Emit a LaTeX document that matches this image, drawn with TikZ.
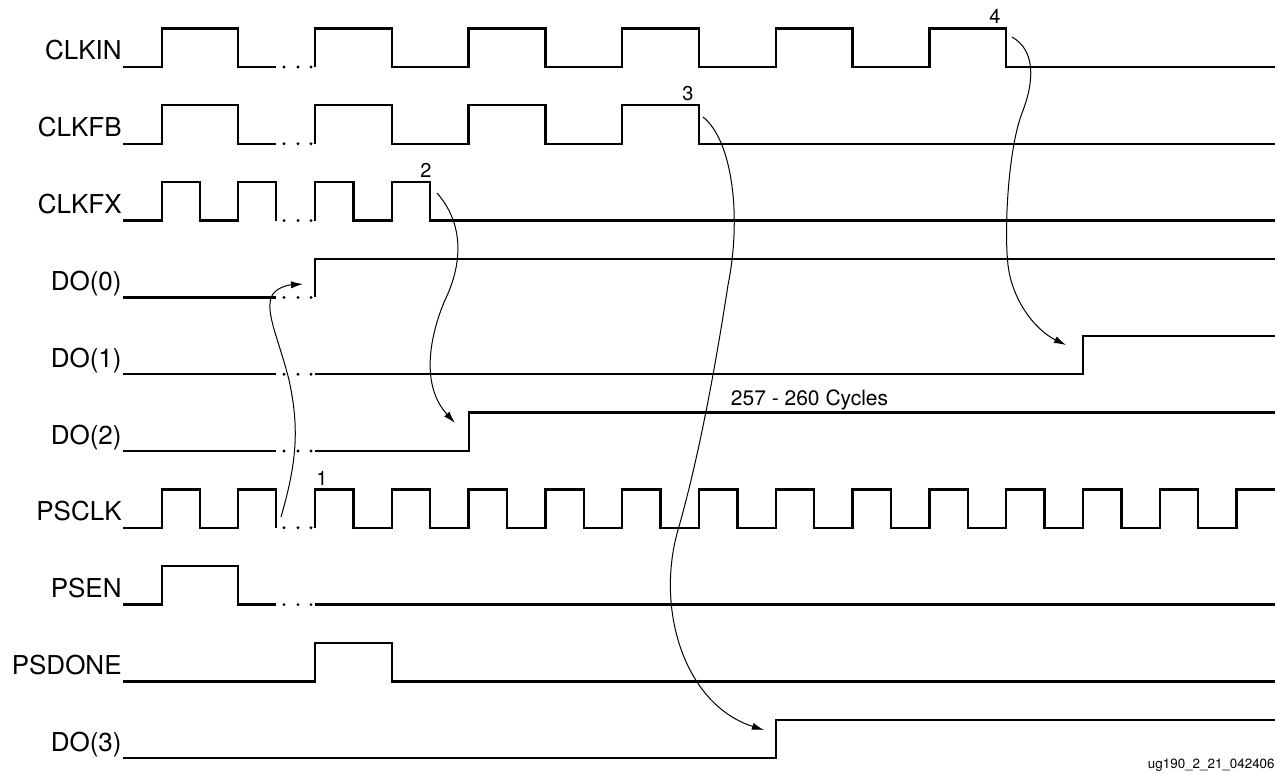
\documentclass[tikz,border=0pt]{standalone}
\usepackage{fontspec}
\setmainfont{TeX Gyre Heros}
\usetikzlibrary{arrows.meta}

\begin{document}
\begin{tikzpicture}[
		x=0.5pt, y=-0.5pt,
		wave/.style={line width=1.2pt, line join=miter},
		arr/.style={-{Latex[length=6pt,width=3.6pt]}, line width=0.5pt},
		sig/.style={anchor=base east, inner sep=0pt, font=\fontsize{13}{15}\selectfont},
		num/.style={anchor=base, inner sep=0pt, font=\fontsize{10}{12}\selectfont}
		]
	\useasboundingbox (0,0) rectangle (1278,775);

	% signal names
	\foreach \s [count=\i from 0] in {CLKIN,CLKFB,CLKFX,DO(0),DO(1),DO(2),PSCLK,PSEN,PSDONE,DO(3)}
		\node[sig] (n\i) at (122,60+76.8*\i) {\s};

	% waveforms
	\draw[wave] (123,67) -- (162,67) -- (162,28.5) -- (238,28.5) -- (238,67) -- (276,67);
	\draw[wave] (315,67) \foreach \k in {1,...,5} {-- ++(0,-38.5) -- ++(76.8,0) -- ++(0,38.5) -- ++(76.8,0)} -- (1275,67);

	\draw[wave] (123,143.8) -- (162,143.8) -- (162,105.3) -- (238,105.3) -- (238,143.8) -- (276,143.8);
	\draw[wave] (315,143.8) \foreach \k in {1,...,3} {-- ++(0,-38.5) -- ++(76.8,0) -- ++(0,38.5) -- ++(76.8,0)} -- (1275,143.8);

	\draw[wave] (123,220.6) -- (162,220.6) -- (162,182.1) -- (200,182.1) -- (200,220.6) -- (238,220.6) -- (238,182.1) -- (276,182.1) -- (276,220.6);
	\draw[wave] (315,220.6) \foreach \k in {1,2} {-- ++(0,-38.5) -- ++(38.4,0) -- ++(0,38.5) -- ++(38.4,0)} -- (1275,220.6);

	\draw[wave] (123,297.4) -- (276,297.4);
	\draw[wave] (315,297.4) -- (315,258.9) -- (1275,258.9);

	\draw[wave] (123,374.2) -- (276,374.2);
	\draw[wave] (315,374.2) -- (1083,374.2) -- (1083,335.7) -- (1275,335.7);

	\draw[wave] (123,451) -- (276,451);
	\draw[wave] (315,451) -- (469,451) -- (469,412.5) -- (1275,412.5);

	\draw[wave] (123,527.8) -- (162,527.8) -- (162,489.3) -- (200,489.3) -- (200,527.8) -- (238,527.8) -- (238,489.3) -- (276,489.3) -- (276,527.8);
	\draw[wave] (315,527.8) \foreach \k in {1,...,12} {-- ++(0,-38.5) -- ++(38.4,0) -- ++(0,38.5) -- ++(38.4,0)} -- ++(0,-38.5) -- (1275,489.3);

	\draw[wave] (123,604.6) -- (162,604.6) -- (162,566.1) -- (238,566.1) -- (238,604.6) -- (276,604.6);
	\draw[wave] (315,604.6) -- (1275,604.6);

	\draw[wave] (123,681.4) -- (315,681.4) -- (315,642.9) -- (392,642.9) -- (392,681.4) -- (1275,681.4);

	\draw[wave] (123,758.2) -- (776,758.2) -- (776,719.7) -- (1275,719.7);

	% break dots
	\foreach \i in {0,...,7}
		\foreach \x in {284,298,311}
			\fill (\x,67+76.8*\i) circle[radius=0.8pt];

	% event numbers
	\node[num] (e1) at (322,485) {1};
	\node[num] (e2) at (426,178) {2};
	\node[num] (e3) at (688,101) {3};
	\node[num] (e4) at (995,24) {4};
	\node[num, font=\fontsize{10.5}{12}\selectfont] (cyc) at (809.5,405) {257 - 260 Cycles};
	\node[anchor=base east, inner sep=0pt, font=\fontsize{6.7}{8}\selectfont] (fig) at (1275,768) {ug190\_2\_21\_042406};

	% arrow ends
	\coordinate (ps1) at (281,517);
	\coordinate (do0) at (303,284);
	\coordinate (fx2) at (437,193);
	\coordinate (do2) at (455,423);
	\coordinate (fb3) at (703,117);
	\coordinate (do3) at (764,730);
	\coordinate (in4) at (1012,37);
	\coordinate (do1) at (1066,345);

	\draw[arr] (ps1) .. controls (296,465) and (300,430) .. (289,380)
		.. controls (279,340) and (266,315) .. (271,298)
		.. controls (274,288) and (288,285) .. (do0);
	\draw[arr] (fx2) .. controls (465,225) and (462,265) .. (445,300)
		.. controls (430,335) and (420,385) .. (do2);
	\draw[arr] (fb3) .. controls (732,140) and (742,215) .. (728,285)
		.. controls (718,350) and (701,450) .. (678,530)
		.. controls (655,610) and (685,705) .. (do3);
	\draw[arr] (in4) .. controls (1035,50) and (1035,80) .. (1022,113)
		.. controls (1008,150) and (1004,230) .. (1008,265)
		.. controls (1012,300) and (1035,330) .. (do1);
\end{tikzpicture}
\end{document}
